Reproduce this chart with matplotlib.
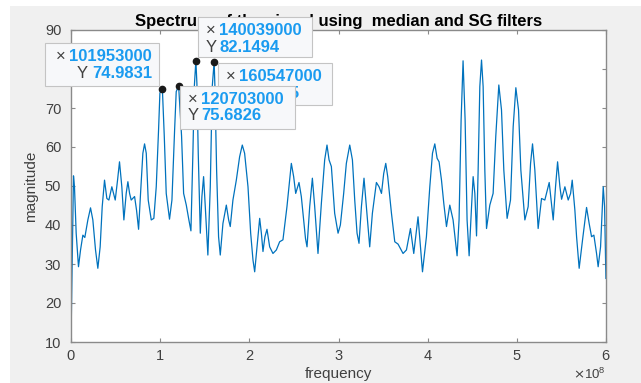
import numpy as np
import matplotlib
from matplotlib import pyplot as plt
from matplotlib.patches import Rectangle
from matplotlib.ticker import ScalarFormatter

matplotlib.rc('font', family='Liberation Sans')

# frequency (x 1e8 Hz) and magnitude
freq_e8 = [
    0.000, 0.028, 0.039, 0.058, 0.084, 0.107, 0.133, 0.155, 0.189, 0.219,
    0.245, 0.275, 0.301, 0.327, 0.350, 0.376, 0.402, 0.425, 0.458, 0.496,
    0.522, 0.544, 0.570, 0.593, 0.619, 0.638, 0.657, 0.675, 0.713, 0.735,
    0.758, 0.780, 0.806, 0.825, 0.844, 0.866, 0.900, 0.929, 0.956, 0.982,
    0.997, 1.01953, 1.027, 1.046, 1.068, 1.105, 1.132, 1.162, 1.180, 1.20703,
    1.240, 1.263, 1.293, 1.322, 1.345, 1.367, 1.383, 1.40039, 1.412, 1.427,
    1.450, 1.468, 1.487, 1.506, 1.535, 1.562, 1.584, 1.60547, 1.614, 1.633,
    1.655, 1.674, 1.704, 1.742, 1.768, 1.786, 1.816, 1.854, 1.891, 1.921,
    1.947, 1.985, 2.015, 2.041, 2.060, 2.086, 2.116, 2.135, 2.153, 2.175,
    2.198, 2.228, 2.265, 2.303, 2.340, 2.377, 2.422, 2.471, 2.497, 2.520,
    2.557, 2.583, 2.609, 2.630, 2.647, 2.677, 2.707, 2.733, 2.770, 2.808,
    2.845, 2.871, 2.894, 2.920, 2.957, 2.995, 3.021, 3.058, 3.088, 3.126,
    3.156, 3.182, 3.208, 3.230, 3.257, 3.286, 3.313, 3.350, 3.380, 3.425,
    3.455, 3.482, 3.507, 3.530, 3.552, 3.594, 3.631, 3.668, 3.724, 3.762,
    3.807, 3.844, 3.892, 3.919, 3.942, 3.986, 4.024, 4.054, 4.080, 4.106,
    4.128, 4.155, 4.181, 4.211, 4.248, 4.285, 4.330, 4.352, 4.375, 4.397,
    4.420, 4.442, 4.465, 4.492, 4.510, 4.529, 4.548, 4.566, 4.585, 4.604,
    4.622, 4.641, 4.660, 4.697, 4.734, 4.764, 4.798, 4.828, 4.854, 4.891,
    4.929, 4.959, 4.989, 5.019, 5.045, 5.090, 5.127, 5.154, 5.176, 5.202,
    5.239, 5.277, 5.314, 5.363, 5.408, 5.434, 5.457, 5.483, 5.502, 5.539,
    5.576, 5.603, 5.621, 5.651, 5.670, 5.699, 5.737, 5.782, 5.811, 5.838,
    5.864, 5.894, 5.912, 5.939, 5.969, 5.984, 5.999,
]
magnitude = [
    10.4, 52.6, 49.8, 37.9, 29.3, 33.6, 37.4, 36.8, 41.3, 44.4,
    41.3, 33.6, 28.9, 34.4, 44.7, 51.5, 46.8, 46.4, 49.8, 46.4,
    51.5, 56.2, 49.8, 41.3, 48.1, 51.1, 48.1, 46.4, 47.3, 43.8,
    38.9, 48.1, 58.4, 60.8, 58.4, 46.4, 41.3, 41.7, 49.8, 64.4,
    73.8, 74.9831, 73.6, 62.8, 48.1, 41.5, 46.4, 64.4, 74.2, 75.6826,
    62.8, 48.1, 45.1, 41.3, 38.5, 58.4, 75.5, 82.1494, 76.3, 58.4,
    37.9, 47.3, 52.4, 44.7, 32.3, 49.8, 75.5, 81.8925, 75.5, 54.1,
    37.0, 32.3, 40.4, 45.1, 41.3, 39.6, 46.4, 51.5, 57.5, 60.5,
    58.4, 49.8, 37.9, 31.0, 28.0, 34.4, 41.7, 37.9, 33.2, 37.0,
    38.9, 34.4, 32.7, 33.6, 35.7, 36.2, 44.7, 55.8, 52.4, 48.1,
    50.9, 47.3, 41.3, 36.5, 34.4, 44.7, 52.0, 44.7, 32.7, 45.6,
    56.7, 60.5, 56.7, 55.0, 43.0, 37.9, 40.0, 48.1, 55.8, 60.5,
    56.7, 46.4, 37.9, 35.3, 44.7, 52.0, 44.7, 34.4, 43.0, 50.9,
    49.8, 48.1, 53.2, 55.8, 52.4, 43.0, 35.7, 35.1, 32.7, 33.6,
    39.1, 32.7, 42.1, 34.4, 28.0, 37.0, 49.8, 58.4, 60.8, 57.1,
    56.2, 51.5, 45.5, 39.6, 45.1, 41.3, 32.1, 41.3, 66.9, 82.1,
    66.9, 41.3, 32.1, 44.7, 52.4, 48.1, 37.2, 54.1, 75.5, 82.3,
    75.5, 54.1, 39.1, 45.1, 48.1, 62.8, 75.9, 69.5, 54.1, 41.7,
    46.4, 65.2, 75.2, 69.5, 54.1, 41.3, 44.7, 55.8, 60.8, 54.1,
    39.1, 46.8, 46.4, 50.9, 41.3, 49.8, 56.2, 49.8, 46.6, 49.8,
    46.4, 48.1, 51.5, 43.8, 37.0, 28.9, 36.2, 44.5, 40.4, 37.0,
    37.4, 32.7, 29.3, 34.4, 49.8, 44.7, 26.3,
]

# data tips: x value, y value, text shown
tip_x = [101953000, 140039000, 160547000, 120703000]
tip_y = [74.9831, 82.1494, 81.8925, 75.6826]
tip_ytxt = ['74.9831', '82.1494', '81.8925', '75.6826']

freq = np.array(freq_e8) * 1e8
mag = np.array(magnitude)

fig = plt.figure(figsize=(6.41, 3.83), dpi=100, facecolor='white')
fig.patches.append(Rectangle((10 / 641, 0), 1, 377 / 383, transform=fig.transFigure,
                             facecolor='#f0f0f0', edgecolor='none', zorder=-10))
ax = fig.add_axes([71 / 641, 41 / 383, 535 / 641, 312 / 383])
ax.set_facecolor('white')

ax.plot(freq, mag, color='#0072BD', lw=0.9)
ax.set_xlim(0, 6e8)
ax.set_ylim(10, 90)
ax.set_yticks(np.arange(10, 91, 10))
ax.set_xticks(np.arange(0, 6.1e8, 1e8))

fmt = ScalarFormatter(useMathText=True)
fmt.set_powerlimits((0, 0))
ax.xaxis.set_major_formatter(fmt)
ax.xaxis.get_offset_text().set_fontsize(9.5)
ax.xaxis.get_offset_text().set_color('#555555')

for s in ax.spines.values():
    s.set_color('#8a8a8a')
    s.set_linewidth(1.0)
ax.tick_params(direction='in', length=3, width=0.8, color='#8a8a8a',
               top=True, right=True, labelsize=10.5, labelcolor='#404040')
ax.tick_params(axis='x', pad=5)
ax.tick_params(axis='y', pad=7)

ax.set_xlabel('frequency', fontsize=11, color='#404040', labelpad=3)
ax.set_ylabel('magnitude', fontsize=11, color='#404040', labelpad=5)
ax.set_title('Spectrum of the signal using  median and SG filters',
             fontsize=12, fontweight='bold', pad=3)

# data tip markers
ax.plot(tip_x, tip_y, 'o', ms=4.5, color='#1a1a1a', zorder=5, clip_on=False)

# overlay in pixel coordinates for the data tip boxes
ov = fig.add_axes([0, 0, 1, 1], zorder=10)
ov.set_xlim(0, 641)
ov.set_ylim(383, 0)
ov.axis('off')
ov.patch.set_alpha(0)

# left, top, width, height, right-aligned text
boxes = [(45, 43, 114, 43, True), (198, 17, 114, 40, False),
         (218, 63, 114, 42, False), (180, 86, 115, 43, False)]
renderer = fig.canvas.get_renderer()
for i, (bx, by, bw, bh, ralign) in enumerate(boxes):
    z = 20 + 2 * i
    ov.add_patch(Rectangle((bx, by), bw, bh, facecolor='#f7f8fa',
                           edgecolor='#c4c4c4', lw=0.8, zorder=z))
    lines = [('×', str(tip_x[i])), ('Y', tip_ytxt[i])]
    for k, (lab, val) in enumerate(lines):
        ty = by + 13.5 + k * 16.5
        if ralign:
            vt = ov.text(bx + bw - 7, ty, val, ha='right', va='center', fontsize=12,
                         fontweight='bold', color='#1a9bf0', zorder=z + 1)
            w = vt.get_window_extent(renderer).width
            ov.text(bx + bw - 7 - w - 4, ty, lab, ha='right', va='center', fontsize=12,
                    color='#404040', zorder=z + 1)
        else:
            ov.text(bx + 8, ty, lab, ha='left', va='center', fontsize=12,
                    color='#404040', zorder=z + 1)
            ov.text(bx + 21, ty, val, ha='left', va='center', fontsize=12,
                    fontweight='bold', color='#1a9bf0', zorder=z + 1)

plt.savefig('out.png', dpi=100, facecolor=fig.get_facecolor())
